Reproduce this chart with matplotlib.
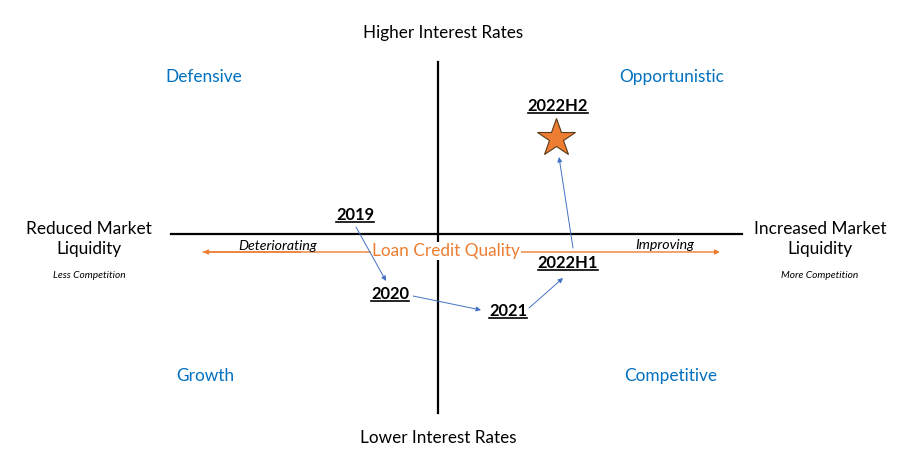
import matplotlib
matplotlib.use("Agg")
import matplotlib.pyplot as plt

plt.rcParams['font.family'] = ['Lato', 'DejaVu Sans']

# ---- data (offsets from axes crossing; x = liquidity, y = interest rates) ----
periods = ["2019", "2020", "2021", "2022H1", "2022H2"]
liquidity = [-83, -48, 70, 130, 118]
rates = [19, -60, -77, -29, 96]

quadrants = ["Defensive", "Opportunistic", "Growth", "Competitive"]
axis_labels = ["Higher Interest Rates", "Lower Interest Rates",
               "Reduced Market\nLiquidity", "Increased Market\nLiquidity"]
sub_labels = ["Less Competition", "More Competition"]
credit_labels = ["Deteriorating", "Loan Credit Quality", "Improving"]

BLUE = "#0070C0"
ARROW = "#4472C4"
ORANGE = "#ED7D31"

W, H = 919, 466
CX, CY = 438, 234
fig = plt.figure(figsize=(W / 100, H / 100), dpi=100)
ax = fig.add_axes([0, 0, 1, 1])
ax.set_xlim(-CX, W - CX)
ax.set_ylim(-(H - CY), CY)
ax.axis("off")

# axes lines
ax.plot([0, 0], [CY - 62, CY - 413], color="black", lw=1.6)
ax.plot([171 - CX, 742 - CX], [0, 0], color="black", lw=1.6)

# orange credit arrow
ax.annotate("", xy=(720 - CX, -18), xytext=(203 - CX, -18),
            arrowprops=dict(arrowstyle="-|>", color=ORANGE, lw=1.0,
                            mutation_scale=7, shrinkA=0, shrinkB=0))
ax.annotate("", xy=(203 - CX, -18), xytext=(300 - CX, -18),
            arrowprops=dict(arrowstyle="-|>", color=ORANGE, lw=1.0,
                            mutation_scale=7, shrinkA=0, shrinkB=0))
ax.text(446 - CX, -17, credit_labels[1], color=ORANGE, fontsize=12.4,
        ha="center", va="center",
        bbox=dict(boxstyle="square,pad=0.05", fc="white", ec="none"))
ax.text(278 - CX, -12.5, credit_labels[0], fontsize=10.2, style="italic",
        ha="center", va="center")
ax.text(665 - CX, -11, credit_labels[2], fontsize=10.2, style="italic",
        ha="center", va="center")

# quadrant names
qpos = [(204, 77), (672, 77), (205, 376), (671, 376)]
for name, (px, py) in zip(quadrants, qpos):
    ax.text(px - CX, CY - py, name, color=BLUE, fontsize=12.4,
            ha="center", va="center")

# axis labels
ax.text(443 - CX, CY - 33, axis_labels[0], fontsize=12.3, ha="center", va="center")
ax.text(438 - CX, CY - 438, axis_labels[1], fontsize=12.3, ha="center", va="center")
ax.text(89 - CX, CY - 239, axis_labels[2], fontsize=12.4, ha="center", va="center",
        linespacing=1.25)
ax.text(820 - CX, CY - 239, axis_labels[3], fontsize=12.4, ha="center", va="center",
        linespacing=1.25)
ax.text(89 - CX, CY - 276, sub_labels[0], fontsize=7.3, style="italic",
        ha="center", va="center")
ax.text(820 - CX, CY - 276, sub_labels[1], fontsize=7.3, style="italic",
        ha="center", va="center")

# star marker for latest period
ax.plot(liquidity[-1], rates[-1], marker="*", markersize=29,
        markerfacecolor=ORANGE, markeredgecolor="#5a3a1a", markeredgewidth=0.8,
        zorder=4)

# period labels (latest sits above its star)
label_off = [(0, 0), (0, 0), (0, 0), (0, 0), (2, 32)]
texts = []
for p, x, y, (dx, dy) in zip(periods, liquidity, rates, label_off):
    t = ax.text(x + dx, y + dy, p, fontsize=11.9, fontweight="bold",
                ha="center", va="center", zorder=5)
    texts.append(t)

# arrows between consecutive periods
start_off = [(1, -12), (23, -2), (21, 3), (5, 15)]
end_off = [(-4, 13), (-27, 1), (-5, -15), (3, -19)]
for i in range(len(periods) - 1):
    sx = liquidity[i] + start_off[i][0]
    sy = rates[i] + start_off[i][1]
    ex = liquidity[i + 1] + end_off[i][0]
    ey = rates[i + 1] + end_off[i][1]
    ax.annotate("", xy=(ex, ey), xytext=(sx, sy),
                arrowprops=dict(arrowstyle="-|>", color=ARROW, lw=0.7,
                                mutation_scale=7, shrinkA=0, shrinkB=0))

# underlines under period labels
fig.canvas.draw()
r = fig.canvas.get_renderer()
inv = ax.transData.inverted()
for t in texts:
    bb = t.get_window_extent(r)
    (x0, y0), (x1, _) = inv.transform([(bb.x0, bb.y0 + 1), (bb.x1, bb.y0 + 1)])
    ax.plot([x0, x1], [y0, y0], color="black", lw=1.2, zorder=5)

fig.savefig("out.png", dpi=100, facecolor="white")
